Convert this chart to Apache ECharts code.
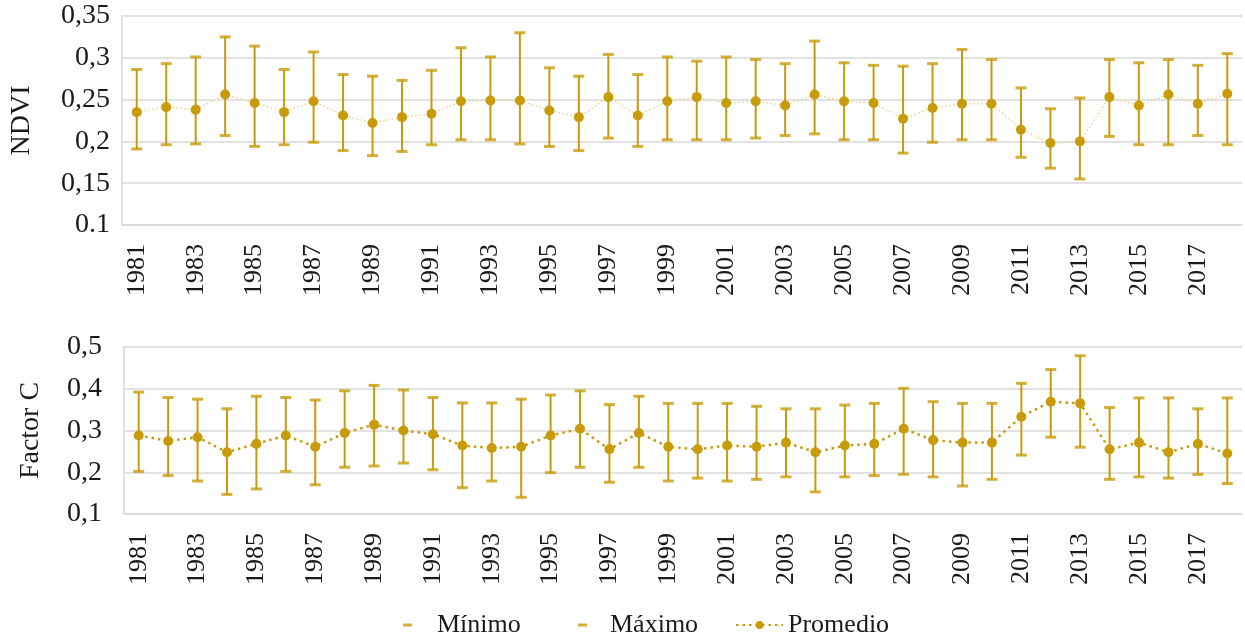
<!DOCTYPE html>
<html>
<head>
<meta charset="utf-8">
<script src="https://cdn.jsdelivr.net/npm/echarts@6/dist/echarts.min.js"></script>
<style>
html,body{margin:0;padding:0;background:#fff;}
#chart{width:1245px;height:634px;}
</style>
</head>
<body>
<div id="chart"></div>
<script>
var years = ['1981','1982','1983','1984','1985','1986','1987','1988','1989','1990','1991','1992','1993','1994','1995','1996','1997','1998','1999','2000','2001','2002','2003','2004','2005','2006','2007','2008','2009','2010','2011','2012','2013','2014','2015','2016','2017','2018'];

var ndviMin = [0.191,0.196,0.197,0.207,0.194,0.196,0.199,0.189,0.183,0.188,0.196,0.202,0.202,0.197,0.194,0.189,0.204,0.194,0.202,0.202,0.202,0.204,0.207,0.209,0.202,0.202,0.186,0.199,0.202,0.202,0.181,0.168,0.155,0.206,0.196,0.196,0.207,0.196];
var ndviMax = [0.286,0.293,0.301,0.325,0.314,0.286,0.307,0.280,0.278,0.273,0.285,0.312,0.301,0.330,0.288,0.278,0.304,0.280,0.301,0.296,0.301,0.298,0.293,0.320,0.294,0.291,0.290,0.293,0.310,0.298,0.264,0.239,0.252,0.298,0.294,0.298,0.291,0.305];
var ndviMean = [0.235,0.241,0.238,0.256,0.246,0.235,0.248,0.231,0.222,0.229,0.233,0.248,0.249,0.249,0.237,0.229,0.253,0.231,0.248,0.253,0.246,0.248,0.243,0.256,0.248,0.246,0.227,0.240,0.245,0.245,0.214,0.198,0.200,0.253,0.243,0.256,0.245,0.257];

var factorMin = [0.202,0.192,0.179,0.147,0.160,0.202,0.170,0.212,0.215,0.222,0.206,0.163,0.179,0.140,0.199,0.212,0.176,0.212,0.179,0.186,0.179,0.183,0.189,0.153,0.189,0.192,0.195,0.189,0.167,0.183,0.241,0.284,0.260,0.183,0.189,0.186,0.195,0.173];
var factorMax = [0.392,0.379,0.375,0.352,0.382,0.379,0.373,0.395,0.408,0.397,0.379,0.366,0.366,0.375,0.385,0.395,0.362,0.382,0.365,0.365,0.365,0.358,0.352,0.352,0.361,0.365,0.401,0.369,0.365,0.365,0.413,0.446,0.479,0.355,0.378,0.378,0.352,0.378];
var factorMean = [0.288,0.275,0.284,0.248,0.268,0.288,0.261,0.294,0.314,0.300,0.291,0.264,0.258,0.261,0.288,0.304,0.255,0.294,0.261,0.255,0.264,0.261,0.271,0.248,0.264,0.268,0.304,0.277,0.271,0.271,0.333,0.369,0.365,0.255,0.271,0.248,0.268,0.245];

var ndviTickLabels = ['0.1','0,15','0,2','0,25','0,3','0,35'];
var factorTickLabels = ['0,1','0,2','0,3','0,4','0,5'];

var GOLD = '#C89B0A';
var FONT = 'Liberation Serif';
var TXT = '#1a1a1a';
var GRIDC = '#d9d9d9';

function rangeData(mins, maxs){
  return mins.map(function(v,i){ return [i, v, maxs[i]]; });
}
function renderBar(params, api){
  var x = api.value(0);
  var p1 = api.coord([x, api.value(1)]);
  var p2 = api.coord([x, api.value(2)]);
  return {type:'line', shape:{x1:p1[0], y1:p1[1], x2:p2[0], y2:p2[1]}, style:{stroke:GOLD, lineWidth:2}};
}

function xAxisCfg(gridIndex){
  return {
    type:'category', gridIndex:gridIndex, data:years, boundaryGap:true,
    axisLine:{show:true, lineStyle:{color:GRIDC, width:1.5}},
    axisTick:{show:false},
    axisLabel:{interval:1, rotate:90, margin:19, fontFamily:FONT, fontSize:26, color:TXT}
  };
}
function yAxisCfg(gridIndex, min, max, interval, labels, name, labelMargin, nameGap){
  return {
    type:'value', gridIndex:gridIndex, min:min, max:max, interval:interval,
    name:name, nameLocation:'middle', nameGap:nameGap, nameRotate:90,
    nameTextStyle:{fontFamily:FONT, fontSize:28, color:TXT},
    axisLine:{show:true, lineStyle:{color:GRIDC, width:1.5}},
    axisTick:{show:false},
    splitLine:{show:true, lineStyle:{color:GRIDC, width:1.5}},
    axisLabel:{margin:labelMargin, fontFamily:FONT, fontSize:28, color:TXT,
      formatter:function(v, idx){ return labels[idx]; }}
  };
}

var chart = echarts.init(document.getElementById('chart'));
chart.setOption({
  backgroundColor:'#fff',
  animation:false,
  grid:[
    {left:121, right:3, top:16, height:209},
    {left:124, right:3, top:347, height:167}
  ],
  xAxis:[xAxisCfg(0), xAxisCfg(1)],
  yAxis:[
    yAxisCfg(0, 0.1, 0.35, 0.05, ndviTickLabels, 'NDVI', 12, 86),
    yAxisCfg(1, 0.1, 0.5, 0.1, factorTickLabels, 'Factor C', 22, 79)
  ],
  legend:[
    {data:[{name:'Mínimo', icon:'rect'}], left:398, top:607, itemWidth:9, itemHeight:3,
     textStyle:{fontFamily:FONT, fontSize:26, color:TXT, padding:[0,0,0,20]}},
    {data:[{name:'Máximo', icon:'rect'}], left:573, top:607, itemWidth:9, itemHeight:3,
     textStyle:{fontFamily:FONT, fontSize:26, color:TXT, padding:[0,0,0,18]}},
    {data:['Promedio'], left:730, top:607, itemWidth:47, itemHeight:10,
     textStyle:{fontFamily:FONT, fontSize:26, color:TXT, padding:[0,0,0,0]}}
  ],
  series:[
    {type:'custom', name:'rangoF', xAxisIndex:1, yAxisIndex:1, renderItem:renderBar,
     data:rangeData(factorMin, factorMax), z:1, encode:{x:0, y:[1,2]}},
    {type:'line', name:'Promedio', xAxisIndex:1, yAxisIndex:1, data:factorMean,
     symbol:'circle', symbolSize:10, itemStyle:{color:GOLD},
     lineStyle:{color:GOLD, width:2.5, type:[2.5,4]}, z:3},
    {type:'scatter', name:'Mínimo', xAxisIndex:1, yAxisIndex:1, data:factorMin,
     symbol:'rect', symbolSize:[11,3], itemStyle:{color:GOLD}, z:2},
    {type:'scatter', name:'Máximo', xAxisIndex:1, yAxisIndex:1, data:factorMax,
     symbol:'rect', symbolSize:[11,3], itemStyle:{color:GOLD}, z:2},

    {type:'custom', name:'rangoN', xAxisIndex:0, yAxisIndex:0, renderItem:renderBar,
     data:rangeData(ndviMin, ndviMax), z:1, encode:{x:0, y:[1,2]}},
    {type:'line', name:'Promedio', xAxisIndex:0, yAxisIndex:0, data:ndviMean,
     symbol:'circle', symbolSize:10, itemStyle:{color:GOLD},
     lineStyle:{color:'#E8D490', width:1.5, type:[1.5,2.5]}, z:3},
    {type:'scatter', name:'Mínimo', xAxisIndex:0, yAxisIndex:0, data:ndviMin,
     symbol:'rect', symbolSize:[11,3], itemStyle:{color:GOLD}, z:2},
    {type:'scatter', name:'Máximo', xAxisIndex:0, yAxisIndex:0, data:ndviMax,
     symbol:'rect', symbolSize:[11,3], itemStyle:{color:GOLD}, z:2}
  ]
});
</script>
</body>
</html>
